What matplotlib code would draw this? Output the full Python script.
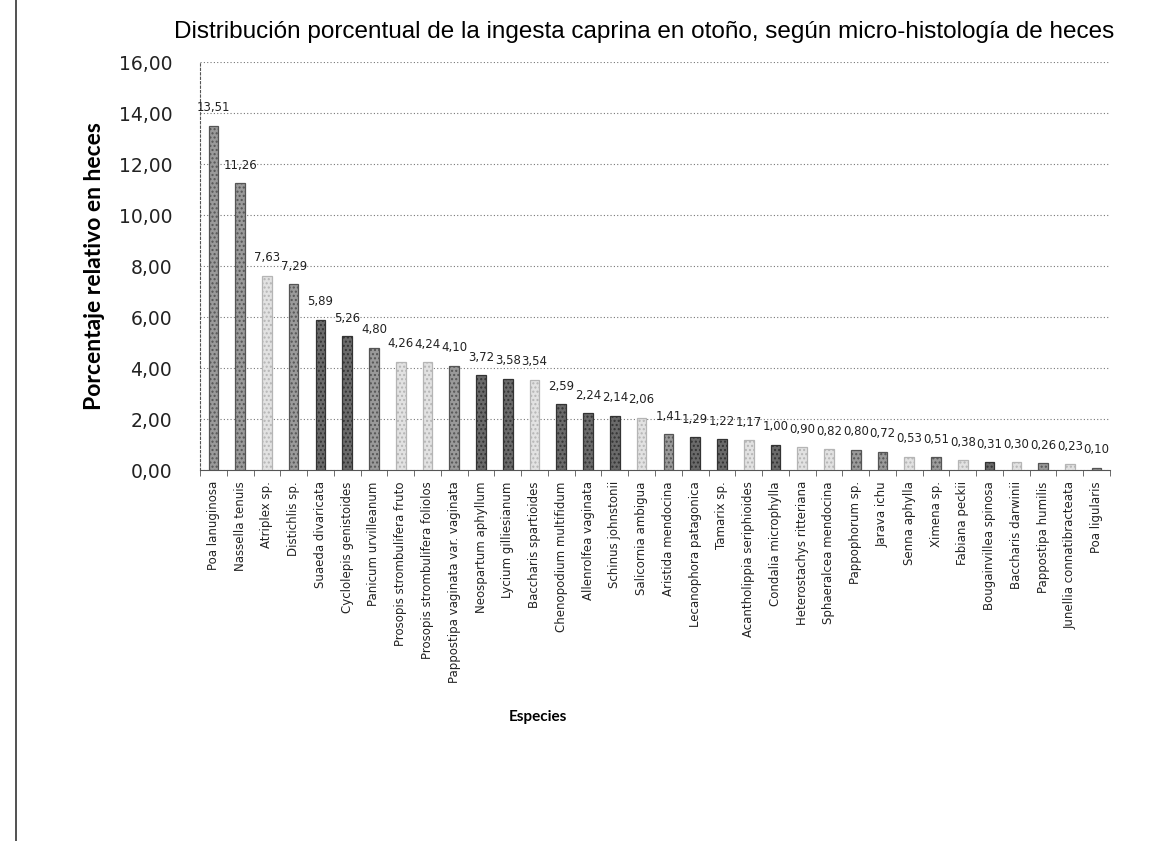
import numpy as np
import matplotlib
matplotlib.use("Agg")
import matplotlib.pyplot as plt
from matplotlib.lines import Line2D

# Especies y porcentaje relativo en heces (otoño)
especies = [
    "Poa lanuginosa", "Nassella tenuis", "Atriplex sp.", "Distichlis sp.",
    "Suaeda divaricata", "Cyclolepis genistoides", "Panicum urvilleanum",
    "Prosopis strombulifera fruto", "Prosopis strombulifera foliolos",
    "Pappostipa vaginata var. vaginata", "Neospartum aphyllum",
    "Lycium gilliesianum", "Baccharis spartioides", "Chenopodium multifidum",
    "Allenrolfea vaginata", "Schinus johnstonii", "Salicornia ambigua",
    "Aristida mendocina", "Lecanophora patagonica", "Tamarix sp.",
    "Acantholippia seriphioides", "Condalia microphylla",
    "Heterostachys ritteriana", "Sphaeralcea mendocina", "Pappophorum sp.",
    "Jarava ichu", "Senna aphylla", "Ximena sp.", "Fabiana peckii",
    "Bougainvillea spinosa", "Baccharis darwinii", "Pappostipa humilis",
    "Junellia connatibracteata", "Poa ligularis",
]
porcentaje = [
    13.51, 11.26, 7.63, 7.29, 5.89, 5.26, 4.80, 4.26, 4.24, 4.10, 3.72,
    3.58, 3.54, 2.59, 2.24, 2.14, 2.06, 1.41, 1.29, 1.22, 1.17, 1.00,
    0.90, 0.82, 0.80, 0.72, 0.53, 0.51, 0.38, 0.31, 0.30, 0.26, 0.23, 0.10,
]
# tono de cada barra: m = medio, c = claro, o = oscuro
tonos = list("mmcmoomccmoocooocmoococcmmcmcocmcm")
y_ticks = [0, 2, 4, 6, 8, 10, 12, 14, 16]

colores = {"m": "#9a9a9a", "c": "#e2e2e2", "o": "#6a6a6a"}
bordes = {"m": "#555555", "c": "#b5b5b5", "o": "#333333"}

fig = plt.figure(figsize=(11.66, 8.41), dpi=100)
ax = fig.add_axes([0.1715, 0.441, 0.7805, 0.485])

x = np.arange(len(especies))
for xi, v, t in zip(x, porcentaje, tonos):
    ax.bar(xi, v, width=0.36, color=colores[t], edgecolor=bordes[t],
           linewidth=0.9, hatch="....", zorder=3)
    ax.text(xi, v + 0.45, f"{v:.2f}".replace(".", ","), ha="center",
            va="bottom", fontsize=8.5, color="#222222", zorder=4)

ax.set_xlim(-0.5, len(especies) - 0.5)
ax.set_ylim(0, 16)
ax.set_yticks(y_ticks)
ax.set_yticklabels([f"{t:.2f}".replace(".", ",") for t in y_ticks],
                   fontsize=13.5, color="#222222")
ax.yaxis.grid(True, linestyle=(0, (1, 2)), color="#777777", linewidth=0.8)
ax.set_axisbelow(True)
ax.tick_params(axis="y", length=0, pad=20)

ax.set_xticks(x)
ax.set_xticklabels(especies, rotation=90, fontsize=8.5, color="#222222")
ax.set_xticks(np.arange(len(especies) + 1) - 0.5, minor=True)
ax.tick_params(axis="x", which="major", length=0, pad=8)
ax.tick_params(axis="x", which="minor", length=4, color="#555555")

for s in ["top", "right"]:
    ax.spines[s].set_visible(False)
ax.spines["left"].set_linestyle((0, (2, 2)))
ax.spines["left"].set_color("#555555")
ax.spines["bottom"].set_linestyle((0, (2, 1)))
ax.spines["bottom"].set_color("#555555")

ax.set_ylabel("Porcentaje relativo en heces", fontsize=16.5, fontweight="bold",
              family=["Lato", "DejaVu Sans"], labelpad=10)
fig.text(0.552, 0.962, "Distribución porcentual de la ingesta caprina en otoño, según micro-histología de heces",
         ha="center", va="center", fontsize=17.5,
         family=["Liberation Sans Narrow", "Liberation Sans", "DejaVu Sans"])
fig.text(0.461, 0.147, "Especies", ha="center", va="center", fontsize=11,
         fontweight="bold", family=["Lato", "DejaVu Sans"])

# borde izquierdo del escaneo
fig.add_artist(Line2D([0.014, 0.014], [0, 1], color="#333333", linewidth=1.2))

fig.savefig("out.png", dpi=100)
